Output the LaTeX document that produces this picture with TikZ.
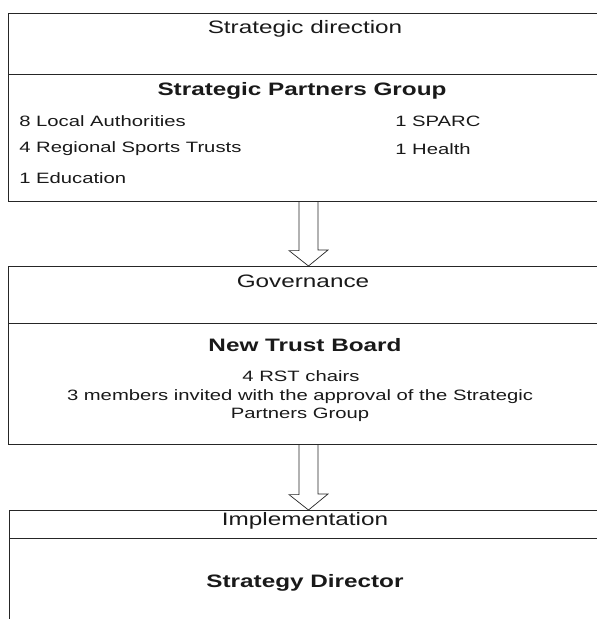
\documentclass[tikz,border=0pt]{standalone}
\usepackage{fontspec}
\setmainfont{Liberation Sans}[FakeStretch=1.35]
\usetikzlibrary{calc}
\begin{document}
\begin{tikzpicture}[x=1pt,y=-1pt,line width=0.6pt,
  box/.style={draw=black!85,anchor=north west,inner sep=0pt,minimum width=620pt},
  head/.style={inner sep=0pt,text=black!90,font=\fontsize{18pt}{21pt}\selectfont},
  title/.style={inner sep=0pt,text=black!90,font=\fontsize{18pt}{21pt}\selectfont\bfseries},
  body/.style={inner sep=0pt,text=black!90,font=\fontsize{15pt}{18pt}\selectfont},
  hollow/.style={draw=black!85,line width=0.7pt,line join=miter}]
\useasboundingbox (0,0) rectangle (597,619);
\clip (0,0) rectangle (597,619);
% boxes
\node[box,minimum height=61pt]  (b1) at (8,13)  {};
\node[box,minimum height=127pt] (b2) at (8,74)  {};
\node[box,minimum height=57pt]  (b3) at (8,266) {};
\node[box,minimum height=121pt] (b4) at (8,323) {};
\node[box,minimum height=28pt]  (b5) at (9,510) {};
\node[box,minimum height=100pt] (b6) at (9,538) {};
% texts
\node[head]  (t1) at (305,29)  {Strategic direction};
\node[title] (t2) at (302,91)  {Strategic Partners Group};
\node[body,anchor=west] (r1) at (19,121) {8 Local Authorities};
\node[body,anchor=west] (r2) at (19,149) {4 Regional Sports Trusts};
\node[body,anchor=west] (r3) at (19,178) {1 Education};
\node[body,anchor=west] (r4) at (395,121) {1 SPARC};
\node[body,anchor=west] (r5) at (395,149) {1 Health};
\node[head]  (t3) at (303,281) {Governance};
\node[title] (t4) at (305,345) {New Trust Board};
\node[body]  (t5) at (301,376) {4 RST chairs};
\node[body,align=center,font=\fontsize{15pt}{18pt}\selectfont] (t6) at (300,406) {3 members invited with the approval of the Strategic\\Partners Group};
\node[head]  (t7) at (305,521) {Implementation};
\node[title] (t8) at (305,583) {Strategy Director};
% hollow arrows
\coordinate (a1) at (308.5,0);
\draw[hollow] ($(b2.south -| a1)+(-9.5,0)$) -- ++(0,49) -- ++(-10,0)
  -- (b3.north -| a1) -- ($(b3.north -| a1)+(19.5,-16)$) -- ++(-10,0)
  -- ($(b2.south -| a1)+(9.5,0)$);
\draw[hollow] ($(b4.south -| a1)+(-9.5,0)$) -- ++(0,50) -- ++(-10,0)
  -- (b5.north -| a1) -- ($(b5.north -| a1)+(19.5,-16)$) -- ++(-10,0)
  -- ($(b4.south -| a1)+(9.5,0)$);
\end{tikzpicture}
\end{document}
